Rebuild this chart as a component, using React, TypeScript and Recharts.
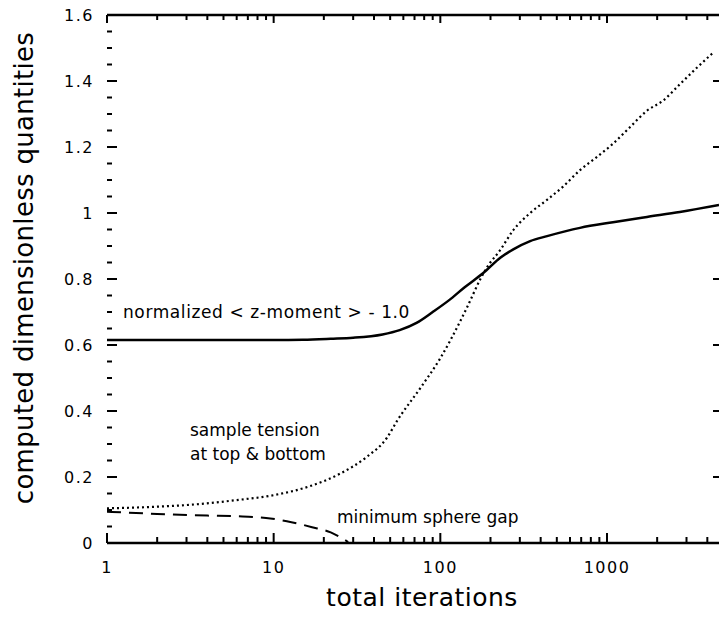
import React from "react";
import { LineChart, Line, XAxis, YAxis } from "recharts";

// ---- data ----
const zMomentX = [1, 5, 10, 15, 22, 30, 45, 57, 72, 90, 113, 140, 181, 230, 274, 346, 437, 689, 1087, 1737, 2735, 4700];
const zMomentY = [0.615, 0.615, 0.615, 0.616, 0.619, 0.622, 0.632, 0.645, 0.667, 0.7, 0.736, 0.775, 0.818, 0.865, 0.89, 0.915, 0.93, 0.955, 0.972, 0.988, 1.003, 1.024];

const tensionX = [1, 2, 3, 6, 10, 16, 25, 36, 48, 55, 76, 100, 131, 145, 174, 191, 229, 274, 346, 437, 545, 689, 871, 1087, 1373, 1737, 2163, 2735, 3459, 4315];
const tensionY = [0.105, 0.11, 0.115, 0.13, 0.145, 0.17, 0.21, 0.26, 0.32, 0.37, 0.47, 0.56, 0.67, 0.715, 0.8, 0.836, 0.888, 0.948, 1.0, 1.04, 1.08, 1.13, 1.17, 1.21, 1.26, 1.31, 1.34, 1.39, 1.44, 1.485];

const gapX = [1, 2, 4, 6, 9, 12, 17, 22, 25, 28];
const gapY = [0.095, 0.088, 0.083, 0.081, 0.076, 0.066, 0.048, 0.032, 0.018, 0.003];

const xTicks = [1, 2, 3, 4, 5, 6, 7, 8, 9, 10, 20, 30, 40, 50, 60, 70, 80, 90, 100, 200, 300, 400, 500, 600, 700, 800, 900, 1000, 2000, 3000, 4000];
const xMajorTicks = [1, 10, 100, 1000];
const xTickLabels = ["1", "10", "100", "1000"];

const yMajorTicks = [0, 0.2, 0.4, 0.6, 0.8, 1.0, 1.2, 1.4, 1.6];
const yTickLabels = ["0", "0.2", "0.4", "0.6", "0.8", "1", "1.2", "1.4", "1.6"];
const yMinorTicks = [0.05, 0.1, 0.15, 0.25, 0.3, 0.35, 0.45, 0.5, 0.55, 0.65, 0.7, 0.75, 0.85, 0.9, 0.95, 1.05, 1.1, 1.15, 1.25, 1.3, 1.35, 1.45, 1.5, 1.55];
const yRightTicks = [0.2, 0.4, 0.6, 0.8, 1.0, 1.2, 1.4];

const zip = (xs: number[], ys: number[]) => xs.map((x, i) => ({ x, y: ys[i] }));
const zMomentData = zip(zMomentX, zMomentY);
const tensionData = zip(tensionX, tensionY);
const gapData = zip(gapX, gapY);

const FONT = "'DejaVu Sans', sans-serif";
const yAllTicks = [...yMajorTicks, ...yMinorTicks].sort((a, b) => a - b);

const majorIndexY = (v: number) => yMajorTicks.findIndex((m) => Math.abs(m - v) < 1e-6);
const majorIndexX = (v: number) => xMajorTicks.findIndex((m) => Math.abs(m - v) < 1e-6);

const LeftTick = (props: any) => {
  const { x, y, payload } = props;
  const idx = majorIndexY(payload.value);
  const major = idx >= 0;
  return (
    <g>
      <line x1={x} x2={x + (major ? 10 : 5)} y1={y} y2={y} stroke="#000" strokeWidth={2} />
      {major && (
        <text x={x - 13} y={y} dy="0.36em" textAnchor="end" fontFamily={FONT} fontSize={16} letterSpacing={1.5} fill="#000">
          {yTickLabels[idx]}
        </text>
      )}
    </g>
  );
};

const RightTick = (props: any) => {
  const { x, y } = props;
  return <line x1={x - 6} x2={x} y1={y} y2={y} stroke="#000" strokeWidth={2} />;
};

const BottomTick = (props: any) => {
  const { x, y, payload } = props;
  const idx = majorIndexX(payload.value);
  const major = idx >= 0;
  return (
    <g>
      <line x1={x} x2={x} y1={y} y2={y - (major ? 10 : 6)} stroke="#000" strokeWidth={2} />
      {major && (
        <text x={x} y={y + 30} textAnchor="middle" fontFamily={FONT} fontSize={16} letterSpacing={1.5} fill="#000">
          {xTickLabels[idx]}
        </text>
      )}
    </g>
  );
};

const TopTick = (props: any) => {
  const { x, y, payload } = props;
  const major = majorIndexX(payload.value) >= 0;
  return <line x1={x} x2={x} y1={y} y2={y + (major ? 8 : 5)} stroke="#000" strokeWidth={2} />;
};

export default function App() {
  return (
    <div style={{ position: "absolute", left: 0, top: 0, width: 719, height: 618, overflow: "hidden", background: "#fff" }}>
      <LineChart width={720} height={618} margin={{ top: 10, right: 0, bottom: 35, left: 47 }}>
        <XAxis
          xAxisId="b"
          type="number"
          dataKey="x"
          scale="log"
          domain={[1, 4700]}
          allowDataOverflow
          ticks={xTicks}
          interval={0}
          height={40}
          tickSize={0}
          tickMargin={0}
          tickLine={false}
          axisLine={{ stroke: "#000", strokeWidth: 2.5 }}
          tick={<BottomTick />}
        />
        <XAxis
          xAxisId="t"
          orientation="top"
          type="number"
          dataKey="x"
          scale="log"
          domain={[1, 4700]}
          allowDataOverflow
          ticks={xTicks}
          interval={0}
          height={5}
          tickSize={0}
          tickMargin={0}
          tickLine={false}
          axisLine={{ stroke: "#000", strokeWidth: 2.5 }}
          tick={<TopTick />}
        />
        <YAxis
          yAxisId="l"
          type="number"
          domain={[0, 1.6]}
          allowDataOverflow
          ticks={yAllTicks}
          interval={0}
          width={60}
          tickSize={0}
          tickMargin={0}
          tickLine={false}
          axisLine={false}
          tick={<LeftTick />}
        />
        <YAxis
          yAxisId="r"
          orientation="right"
          type="number"
          domain={[0, 1.6]}
          allowDataOverflow
          ticks={yRightTicks}
          interval={0}
          width={1}
          tickSize={0}
          tickMargin={0}
          tickLine={false}
          axisLine={false}
          tick={<RightTick />}
        />
        <Line
          xAxisId="b"
          yAxisId="l"
          data={zMomentData}
          dataKey="y"
          type="monotone"
          stroke="#000"
          strokeWidth={2.5}
          dot={false}
          isAnimationActive={false}
        />
        <Line
          xAxisId="b"
          yAxisId="l"
          data={tensionData}
          dataKey="y"
          type="monotone"
          stroke="#000"
          strokeWidth={2.2}
          strokeDasharray="2 3"
          dot={false}
          isAnimationActive={false}
        />
        <Line
          xAxisId="b"
          yAxisId="l"
          data={gapData}
          dataKey="y"
          type="monotone"
          stroke="#000"
          strokeWidth={2}
          strokeDasharray="14 8"
          dot={false}
          isAnimationActive={false}
        />
        <text x={123} y={318} fontFamily={FONT} fontSize={17} letterSpacing={0.6} fill="#000">
          normalized &lt; z-moment &gt; - 1.0
        </text>
        <text x={190} y={436} fontFamily={FONT} fontSize={17} fill="#000">
          sample tension
        </text>
        <text x={190} y={460} fontFamily={FONT} fontSize={17} fill="#000">
          at top &amp; bottom
        </text>
        <text x={337} y={523} fontFamily={FONT} fontSize={17} fill="#000">
          minimum sphere gap
        </text>
        <text x={422} y={606} textAnchor="middle" fontFamily={FONT} fontSize={25} letterSpacing={0.5} fill="#000">
          total iterations
        </text>
        <text
          x={33}
          y={268}
          textAnchor="middle"
          transform="rotate(-90, 33, 268)"
          fontFamily={FONT}
          fontSize={26}
          letterSpacing={0.3}
          fill="#000"
        >
          computed dimensionless quantities
        </text>
      </LineChart>
    </div>
  );
}
